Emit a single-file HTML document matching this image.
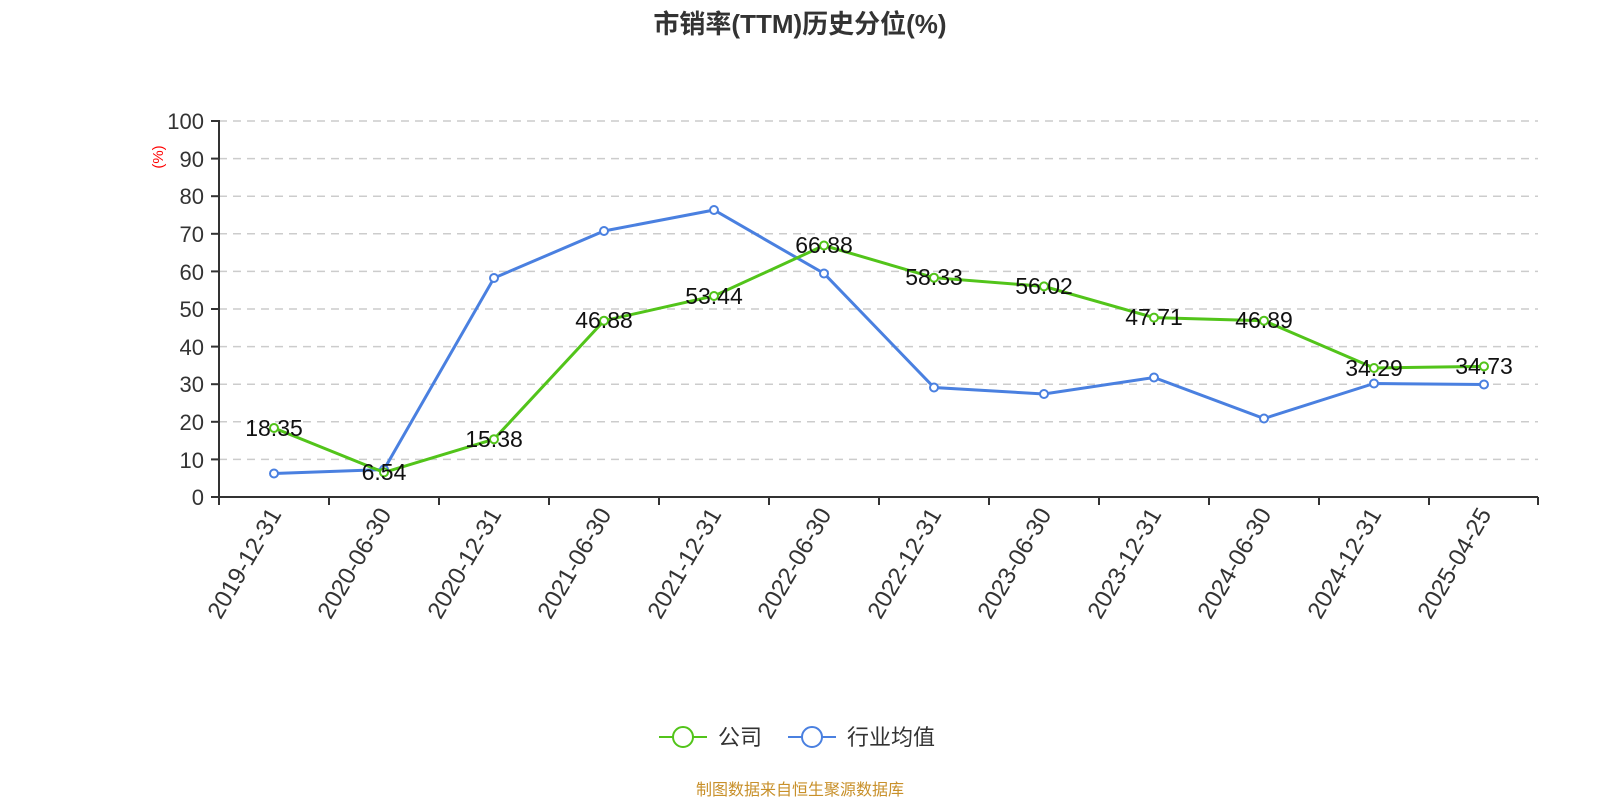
<!DOCTYPE html>
<html><head><meta charset="utf-8"><style>body{margin:0;background:#fff}svg{display:block}text{font-family:"Liberation Sans","Noto Sans CJK SC",sans-serif}</style></head><body>
<svg width="1600" height="800" xmlns="http://www.w3.org/2000/svg">
<text x="800" y="33" text-anchor="middle" font-size="26" font-weight="bold" fill="#333">市销率(TTM)历史分位(%)</text>
<g id="grid" stroke="#ccc" stroke-dasharray="8,6" stroke-width="1.5">
<line x1="219" x2="1538" y1="121" y2="121"/><line x1="219" x2="1538" y1="158.6" y2="158.6"/><line x1="219" x2="1538" y1="196.2" y2="196.2"/><line x1="219" x2="1538" y1="233.8" y2="233.8"/><line x1="219" x2="1538" y1="271.4" y2="271.4"/><line x1="219" x2="1538" y1="309" y2="309"/><line x1="219" x2="1538" y1="346.6" y2="346.6"/><line x1="219" x2="1538" y1="384.2" y2="384.2"/><line x1="219" x2="1538" y1="421.8" y2="421.8"/><line x1="219" x2="1538" y1="459.4" y2="459.4"/>
</g>
<g stroke="#333" stroke-width="2">
<line x1="219" y1="120" x2="219" y2="497"/><line x1="219" y1="497" x2="1538" y2="497"/>
<line x1="211" x2="219" y1="121" y2="121"/><line x1="211" x2="219" y1="158.6" y2="158.6"/><line x1="211" x2="219" y1="196.2" y2="196.2"/><line x1="211" x2="219" y1="233.8" y2="233.8"/><line x1="211" x2="219" y1="271.4" y2="271.4"/><line x1="211" x2="219" y1="309" y2="309"/><line x1="211" x2="219" y1="346.6" y2="346.6"/><line x1="211" x2="219" y1="384.2" y2="384.2"/><line x1="211" x2="219" y1="421.8" y2="421.8"/><line x1="211" x2="219" y1="459.4" y2="459.4"/><line x1="211" x2="219" y1="497" y2="497"/>
<line x1="219" x2="219" y1="497" y2="505"/><line x1="329" x2="329" y1="497" y2="505"/><line x1="439" x2="439" y1="497" y2="505"/><line x1="549" x2="549" y1="497" y2="505"/><line x1="659" x2="659" y1="497" y2="505"/><line x1="769" x2="769" y1="497" y2="505"/><line x1="879" x2="879" y1="497" y2="505"/><line x1="989" x2="989" y1="497" y2="505"/><line x1="1099" x2="1099" y1="497" y2="505"/><line x1="1209" x2="1209" y1="497" y2="505"/><line x1="1319" x2="1319" y1="497" y2="505"/><line x1="1429" x2="1429" y1="497" y2="505"/><line x1="1538" x2="1538" y1="497" y2="505"/>
</g>
<g font-size="22" fill="#333" text-anchor="end">
<text x="204" y="129">100</text><text x="204" y="167">90</text><text x="204" y="204">80</text><text x="204" y="242">70</text><text x="204" y="280">60</text><text x="204" y="317">50</text><text x="204" y="355">40</text><text x="204" y="392">30</text><text x="204" y="430">20</text><text x="204" y="468">10</text><text x="204" y="505">0</text>
</g>
<text transform="translate(163,157) rotate(-90)" text-anchor="middle" font-size="15" fill="red">(%)</text>
<g font-size="24" fill="#333" text-anchor="end">
<text transform="translate(282,514) rotate(-60)">2019-12-31</text>
<text transform="translate(392,514) rotate(-60)">2020-06-30</text>
<text transform="translate(502,514) rotate(-60)">2020-12-31</text>
<text transform="translate(612,514) rotate(-60)">2021-06-30</text>
<text transform="translate(722,514) rotate(-60)">2021-12-31</text>
<text transform="translate(832,514) rotate(-60)">2022-06-30</text>
<text transform="translate(942,514) rotate(-60)">2022-12-31</text>
<text transform="translate(1052,514) rotate(-60)">2023-06-30</text>
<text transform="translate(1162,514) rotate(-60)">2023-12-31</text>
<text transform="translate(1272,514) rotate(-60)">2024-06-30</text>
<text transform="translate(1382,514) rotate(-60)">2024-12-31</text>
<text transform="translate(1492,514) rotate(-60)">2025-04-25</text>
</g>
<polyline fill="none" stroke="#4a80e0" stroke-width="3" points="274,473.5 384,469.5 494,278 604,231 714,210 824,273.5 934,387.5 1044,394 1154,377.5 1264,418.5 1374,383.5 1484,384.5"/>
<g fill="#fff" stroke="#4a80e0" stroke-width="2">
<circle cx="274" cy="473.5" r="4"/><circle cx="384" cy="469.5" r="4"/><circle cx="494" cy="278" r="4"/><circle cx="604" cy="231" r="4"/><circle cx="714" cy="210" r="4"/><circle cx="824" cy="273.5" r="4"/><circle cx="934" cy="387.5" r="4"/><circle cx="1044" cy="394" r="4"/><circle cx="1154" cy="377.5" r="4"/><circle cx="1264" cy="418.5" r="4"/><circle cx="1374" cy="383.5" r="4"/><circle cx="1484" cy="384.5" r="4"/>
</g>
<polyline fill="none" stroke="#52c41a" stroke-width="3" points="274,428 384,472.4 494,439.2 604,320.7 714,296 824,245.5 934,277.7 1044,286.4 1154,317.6 1264,320.7 1374,368 1484,366.4"/>
<g fill="#fff" stroke="#52c41a" stroke-width="2">
<circle cx="274" cy="428" r="4"/><circle cx="384" cy="472.4" r="4"/><circle cx="494" cy="439.2" r="4"/><circle cx="604" cy="320.7" r="4"/><circle cx="714" cy="296" r="4"/><circle cx="824" cy="245.5" r="4"/><circle cx="934" cy="277.7" r="4"/><circle cx="1044" cy="286.4" r="4"/><circle cx="1154" cy="317.6" r="4"/><circle cx="1264" cy="320.7" r="4"/><circle cx="1374" cy="368" r="4"/><circle cx="1484" cy="366.4" r="4"/>
</g>
<g font-size="23" fill="#111" text-anchor="middle">
<text x="274" y="436">18.35</text><text x="384" y="480">6.54</text><text x="494" y="447">15.38</text><text x="604" y="328">46.88</text><text x="714" y="304">53.44</text><text x="824" y="253">66.88</text><text x="934" y="285">58.33</text><text x="1044" y="294">56.02</text><text x="1154" y="325">47.71</text><text x="1264" y="328">46.89</text><text x="1374" y="376">34.29</text><text x="1484" y="374">34.73</text>
</g>
<line x1="659" x2="707" y1="737" y2="737" stroke="#52c41a" stroke-width="2"/><circle cx="683" cy="737" r="10" fill="#fff" stroke="#52c41a" stroke-width="2"/>
<text x="718" y="745" font-size="22" fill="#333">公司</text>
<line x1="788" x2="836" y1="737" y2="737" stroke="#4a80e0" stroke-width="2"/><circle cx="812" cy="737" r="10" fill="#fff" stroke="#4a80e0" stroke-width="2"/>
<text x="847" y="745" font-size="22" fill="#333">行业均值</text>
<text x="800" y="795" text-anchor="middle" font-size="16" fill="#c8902a">制图数据来自恒生聚源数据库</text>
</svg>
</body></html>
